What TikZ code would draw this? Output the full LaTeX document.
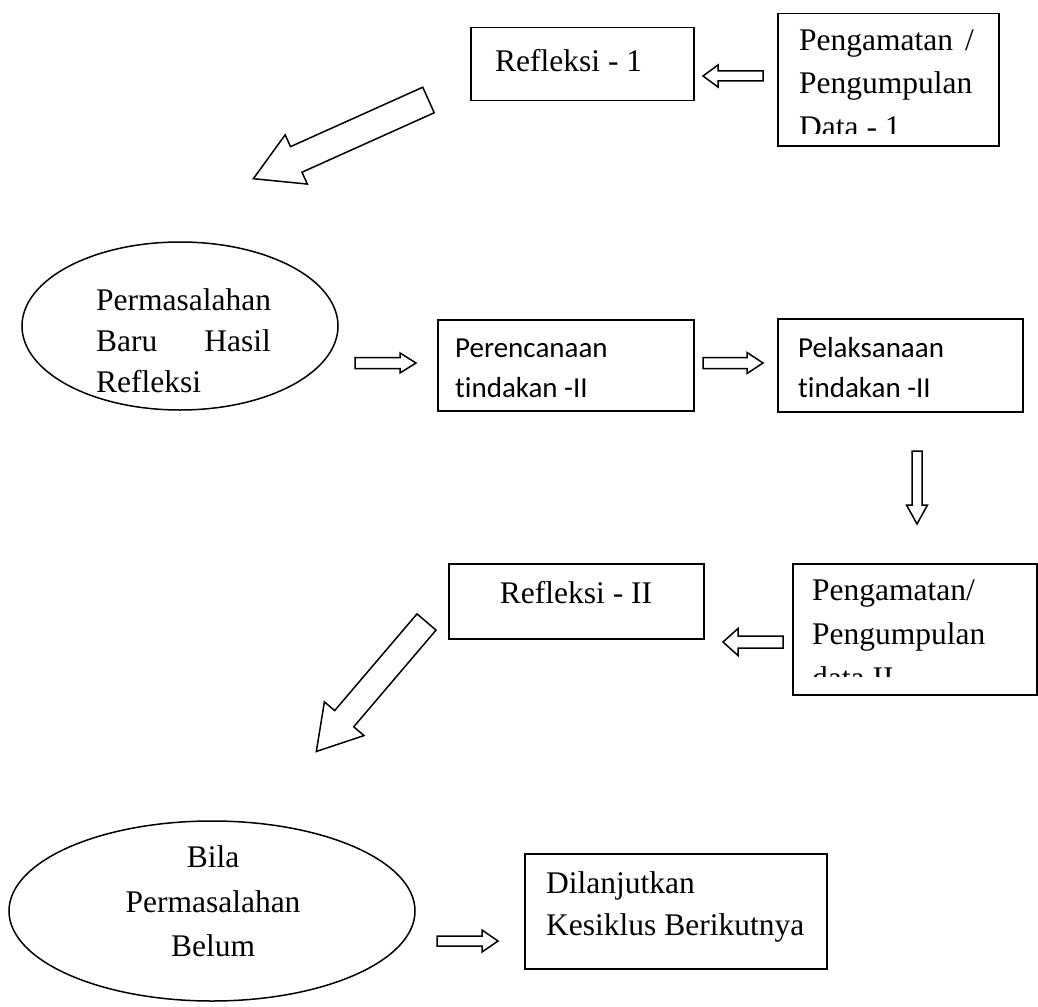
\documentclass[tikz,border=0pt]{standalone}
\usepackage{fontspec}
\setmainfont{Liberation Serif}
\newfontfamily\calibfont[Ligatures={NoCommon}]{Carlito}
\usetikzlibrary{shapes.geometric}
\tikzset{
  boxn/.style={draw, line width=1.5pt, rectangle, inner sep=0pt, anchor=north west},
  ellin/.style={draw, line width=1.5pt, ellipse, inner sep=0pt},
  txt/.style={inner sep=0pt, anchor=base west, font=\fontsize{31.5}{40}\selectfont},
  stxt/.style={inner sep=0pt, anchor=base west, font=\calibfont\fontsize{29}{36}\selectfont},
  arrowline/.style={draw, line width=1.5pt, line join=miter, fill=white},
  pics/harrow/.style n args={4}{code={
    \draw[arrowline] (0,-#2) -- ({#1-#4},-#2) -- ({#1-#4},-#3) -- (#1,0)
      -- ({#1-#4},#3) -- ({#1-#4},#2) -- (0,#2) -- cycle;
  }}
}
\begin{document}
\begin{tikzpicture}[x=1pt,y=1pt]
\useasboundingbox (0,0) rectangle (1038,-1006);

% boxes
\node[boxn, minimum width=223pt, minimum height=73pt] (r1) at (470,-27) {};
\node[boxn, minimum width=221pt, minimum height=132pt] (p1) at (777,-13) {};
\node[boxn, minimum width=256pt, minimum height=91pt] (pr) at (437,-319) {};
\node[boxn, minimum width=245pt, minimum height=93pt] (pl) at (777,-318) {};
\node[boxn, minimum width=255pt, minimum height=75pt] (r2) at (448,-563) {};
\node[boxn, minimum width=244pt, minimum height=131pt] (p2) at (792,-563) {};
\node[boxn, minimum width=302pt, minimum height=115pt] (dl) at (524,-853) {};

% ellipses
\node[ellin, minimum width=316pt, minimum height=168pt] (e1) at (180,-326) {};
\node[ellin, minimum width=406pt, minimum height=180pt] (e2) at (212,-911) {};

% texts
\node[txt] (r1t) at (495,-72) {Refleksi - 1};
\begin{scope}
\clip (778,-14) rectangle (997,-134);
\node[txt] (p1a) at (799,-51) {Pengamatan};
\node[txt, anchor=base east] (p1s) at (974,-51) {/};
\node[txt] (p1b) at (799,-94) {Pengumpulan};
\node[txt] (p1c) at (799,-138) {Data - 1};
\end{scope}

\node[txt] (e1a) at (96,-310) {Permasalahan};
\node[txt] (e1b) at (96,-351) {Baru};
\node[txt, anchor=base east] (e1c) at (271,-351) {Hasil};
\node[txt] (e1d) at (96,-392) {Refleksi};

\node[stxt] (pra) at (455,-357) {Perencanaan};
\node[stxt] (prb) at (455,-397) {tindakan -II};
\node[stxt] (pla) at (798,-357) {Pelaksanaan};
\node[stxt] (plb) at (798,-397) {tindakan -II};

\node[txt, anchor=base] (r2t) at (576,-603) {Refleksi - II};
\begin{scope}
\clip (793,-564) rectangle (1035,-676);
\node[txt] (p2a) at (812,-600) {Pengamatan/};
\node[txt] (p2b) at (812,-644) {Pengumpulan};
\node[txt] (p2c) at (812,-688) {data II};
\end{scope}

\node[txt, anchor=base] (e2a) at (213,-867) {Bila};
\node[txt, anchor=base] (e2b) at (213,-912) {Permasalahan};
\node[txt, anchor=base] (e2c) at (213,-956) {Belum};

\node[txt] (dla) at (546,-893) {Dilanjutkan};
\node[txt] (dlb) at (546,-935) {Kesiklus Berikutnya};

% block arrows
\pic[rotate=180] at (763,-76) {harrow={60}{5}{11}{15}};
\pic at (355,-363) {harrow={61}{5.5}{10}{16}};
\pic at (703,-363) {harrow={60}{5.5}{10.5}{16}};
\pic[rotate=-90] at (917,-451) {harrow={73}{5}{10.5}{19}};
\pic[rotate=180] at (783,-642) {harrow={60}{6}{13.5}{15}};
\pic at (437,-941) {harrow={61}{5}{11}{16}};

\pic[rotate=204.2] at (428.5,-100) {harrow={192}{14}{27}{47}};
\pic[rotate=229.6] at (426.5,-622) {harrow={170}{12.5}{26}{43}};
\end{tikzpicture}
\end{document}
